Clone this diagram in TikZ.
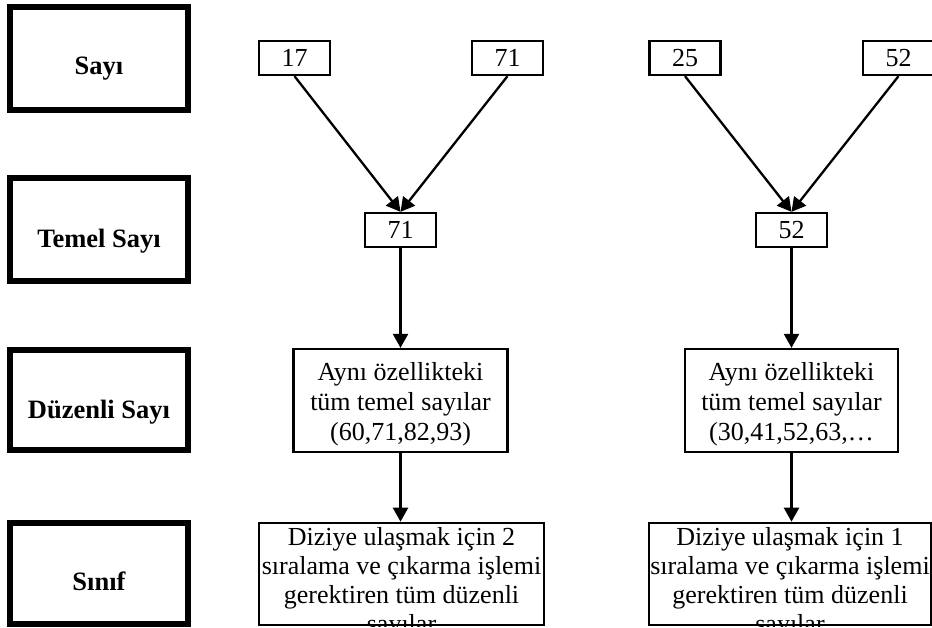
\documentclass[tikz,border=0pt]{standalone}
\usepackage{fontspec}
\setmainfont{Liberation Serif}
\usetikzlibrary{arrows.meta}
\begin{document}
\begin{tikzpicture}[x=1pt,y=-1pt,
  lab/.style={draw, line width=6pt, minimum width=178pt, minimum height=103pt, inner sep=0pt},
  labtxt/.style={font=\fontsize{26.5}{30}\selectfont\bfseries, anchor=base, inner sep=0pt},
  numbox/.style={draw, line width=2.3pt, minimum width=71pt, minimum height=34pt, inner sep=0pt, font=\fontsize{26}{30}\selectfont},
  bigbox/.style={draw, line width=2.3pt, inner sep=0pt, fill=white},
  boxtxt/.style={font=\fontsize{26}{30}\selectfont, align=center, anchor=north, inner sep=0pt},
  boxtxtb/.style={font=\fontsize{26}{29}\selectfont, align=center, anchor=north, inner sep=0pt},
  arr/.style={line width=2.3pt, -{Triangle[length=14pt,width=15pt]}}
]
\clip (0,0) rectangle (932,627);
% left labels
\node[lab] (L1) at (99,58.5) {};
\node[lab] (L2) at (99,229.5) {};
\node[lab, minimum height=100pt] (L3) at (99,400) {};
\node[lab, minimum height=101pt] (L4) at (99,573.5) {};
\node[labtxt] (T1) at (99,74) {Sayı};
\node[labtxt] (T2) at (99,247) {Temel Sayı};
\node[labtxt] (T3) at (99,418) {Düzenli Sayı};
\node[labtxt] (T4) at (99,590) {Sınıf};
% number boxes
\node[numbox] (a1) at (294.5,58) {17};
\node[numbox] (a2) at (507.5,58) {71};
\node[numbox] (b1) at (400.5,230) {71};
\node[numbox] (a3) at (685,58) {25};
\node[numbox] (a4) at (898.5,58) {52};
\node[numbox] (b2) at (791.5,230) {52};
% duzenli boxes
\node[bigbox, minimum width=214pt, minimum height=103pt] (d1) at (400.5,400.5) {};
\node[boxtxt] (d1t) at (400.5,362) {Aynı özellikteki\\tüm temel sayılar\\(60,71,82,93)};
\node[bigbox, minimum width=213pt, minimum height=103pt] (d2) at (791.5,400.5) {};
\node[boxtxt] (d2t) at (791.5,362) {Aynı özellikteki\\tüm temel sayılar\\(30,41,52,63,…};
% sinif boxes
\node[bigbox, line width=2.6pt, minimum width=285pt, minimum height=102pt] (s1) at (401.5,574) {};
\begin{scope}
\clip (s1.south west) rectangle (s1.north east);
\node[boxtxtb] (s1t) at (401.5,527) {Diziye ulaşmak için 2\\sıralama ve çıkarma işlemi\\gerektiren tüm düzenli\\sayılar};
\end{scope}
\node[bigbox, line width=2.6pt, minimum width=282pt, minimum height=102pt] (s2) at (790,574) {};
\begin{scope}
\clip (s2.south west) rectangle (s2.north east);
\node[boxtxtb] (s2t) at (790,527) {Diziye ulaşmak için 1\\sıralama ve çıkarma işlemi\\gerektiren tüm düzenli\\sayılar};
\end{scope}
% arrows
\draw[arr] (a1.south) -- (b1.north);
\draw[arr] (a2.south) -- (b1.north);
\draw[arr] (b1.south) -- (d1.north);
\draw[arr] (d1.south) -- (d1.south |- s1.north);
\draw[arr] (a3.south) -- (b2.north);
\draw[arr] (a4.south) -- (b2.north);
\draw[arr] (b2.south) -- (d2.north);
\draw[arr] (d2.south) -- (d2.south |- s2.north);
\end{tikzpicture}
\end{document}
